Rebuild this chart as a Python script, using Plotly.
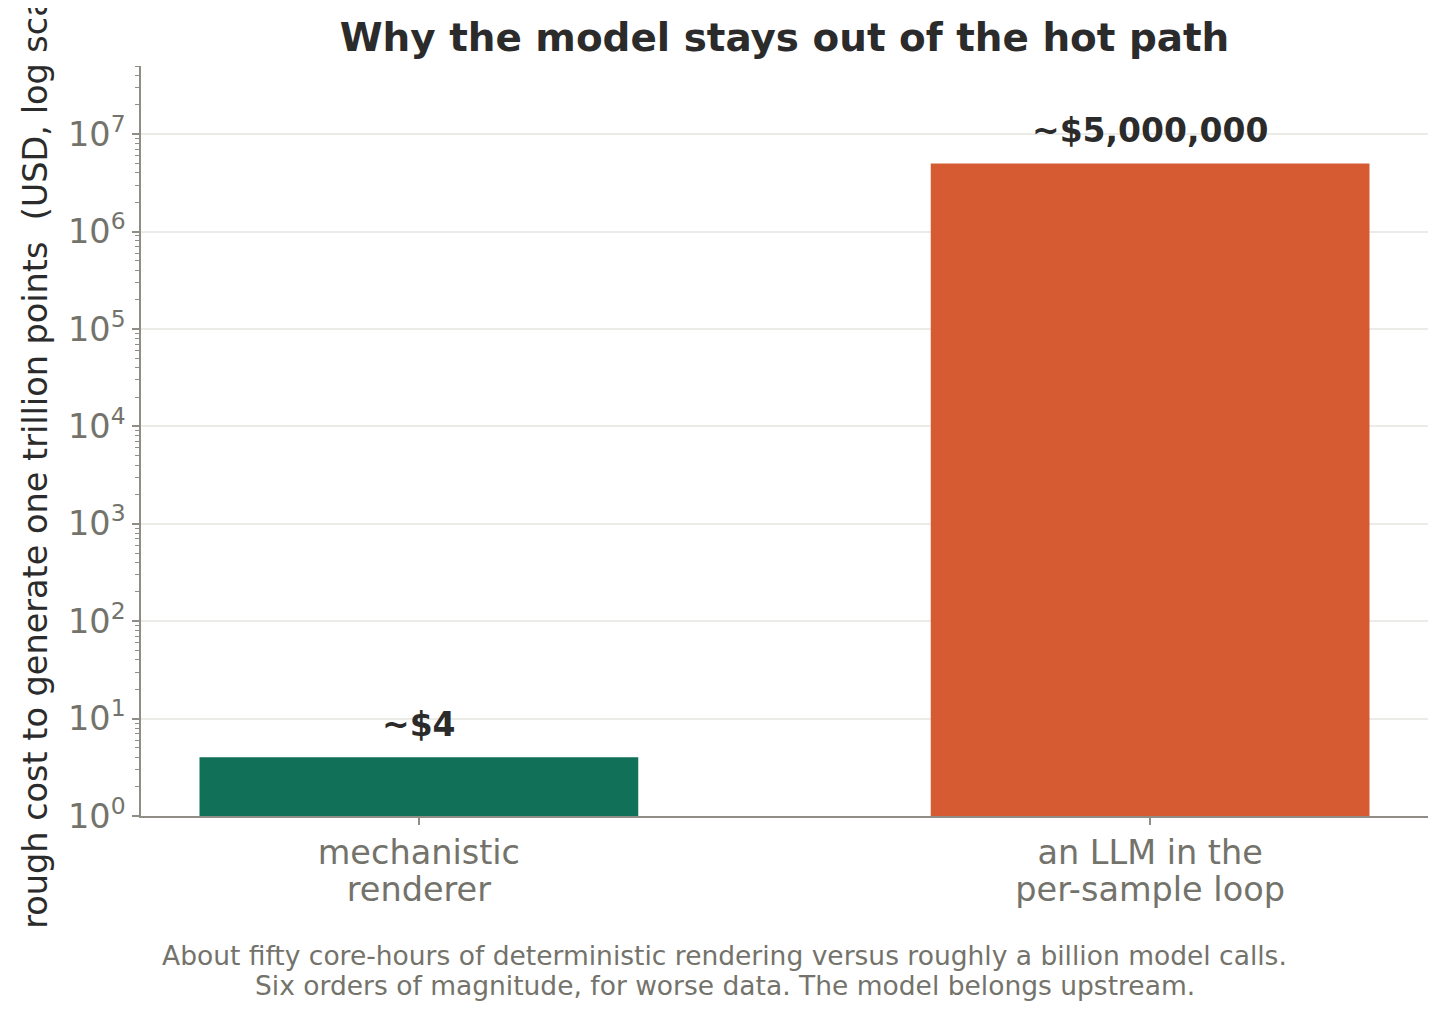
import math
import plotly.graph_objects as go

# ---- data ----
categories = ["mechanistic<br>renderer", "an LLM in the<br>per-sample loop"]
costs_usd = [4, 5_000_000]
value_labels = ["~$4", "~$5,000,000"]
bar_colors = ["#117058", "#d75b32"]
tick_values = [1, 10, 100, 1_000, 10_000, 100_000, 1_000_000, 10_000_000]
tick_labels = ["10<sup>0</sup>", "10<sup>1</sup>", "10<sup>2</sup>", "10<sup>3</sup>",
               "10<sup>4</sup>", "10<sup>5</sup>", "10<sup>6</sup>", "10<sup>7</sup>"]
y_max = 50_000_000

title_text = "<b>Why the model stays out of the hot path</b>"
y_title = "rough cost to generate one trillion points  (USD, log scale)"
caption_lines = [
    "About fifty core-hours of deterministic rendering versus roughly a billion model calls.",
    "Six orders of magnitude, for worse data. The model belongs upstream.",
]

FONT = "DejaVu Sans"
TICK_GRAY = "#74736b"
SPINE = "#8f8d85"
DARK = "#2b2b2b"
GRID = "#ebebe7"

minor_vals = [k * 10 ** e for e in range(0, 8) for k in range(2, 10) if k * 10 ** e <= y_max]
x_ticktext = ["<br>".join(f'<span style="font-size:33.5px">{part}</span>' for part in c.split("<br>"))
              for c in categories]

fig = go.Figure(
    go.Bar(
        x=categories,
        y=costs_usd,
        width=0.6,
        marker=dict(color=bar_colors, line=dict(width=0)),
        hoverinfo="skip",
    )
)

for cat, val, lab in zip(categories, costs_usd, value_labels):
    fig.add_annotation(
        x=cat, y=math.log10(val), xref="x", yref="y",
        text=f"<b>{lab}</b>", showarrow=False,
        yanchor="bottom", yshift=11,
        font=dict(family=FONT, size=33, color=DARK),
    )

for i, line in enumerate(caption_lines):
    fig.add_annotation(
        x=0.5, y=0, xref="paper", yref="paper", xshift=-60, yshift=-139 - 30 * i,
        xanchor="center", yanchor="middle", align="center",
        text=line, showarrow=False,
        font=dict(family=FONT, size=26.5, color=TICK_GRAY),
    )

fig.update_layout(
    width=1447, height=1019,
    margin=dict(l=133, r=27, t=58, b=211),
    paper_bgcolor="white", plot_bgcolor="white",
    showlegend=False,
    font=dict(family=FONT, color=TICK_GRAY),
    title=dict(
        text=title_text, x=0.5, xref="paper", xanchor="center",
        y=1 - 29 / 1019, yref="container", yanchor="middle",
        font=dict(family=FONT, size=38.9, color=DARK),
    ),
)

fig.update_xaxes(
    range=[-0.38, 1.38],
    showline=True, linecolor=SPINE, linewidth=1.5,
    ticks="outside", ticklen=7, tickwidth=1.5, tickcolor=SPINE,
    tickmode="array", tickvals=categories, ticktext=x_ticktext,
    ticklabelstandoff=5,
    showgrid=False, zeroline=False,
    tickfont=dict(family=FONT, size=28.5, color=TICK_GRAY),
)

fig.update_yaxes(
    type="log",
    range=[0, math.log10(y_max)],
    showline=True, linecolor=SPINE, linewidth=1.5,
    ticks="outside", ticklen=7, tickwidth=1.5, tickcolor=SPINE,
    tickmode="array", tickvals=tick_values, ticktext=tick_labels,
    tickfont=dict(family=FONT, size=33.5, color=TICK_GRAY),
    showgrid=True, gridcolor=GRID, gridwidth=1.5,
    zeroline=False,
    minor=dict(tickmode="array", tickvals=minor_vals, ticks="outside",
               ticklen=4, tickwidth=1, tickcolor=SPINE, showgrid=False),
    title=dict(text=y_title, standoff=10,
               font=dict(family=FONT, size=33.5, color=DARK)),
    automargin=False,
)

fig.write_html("out.html")
